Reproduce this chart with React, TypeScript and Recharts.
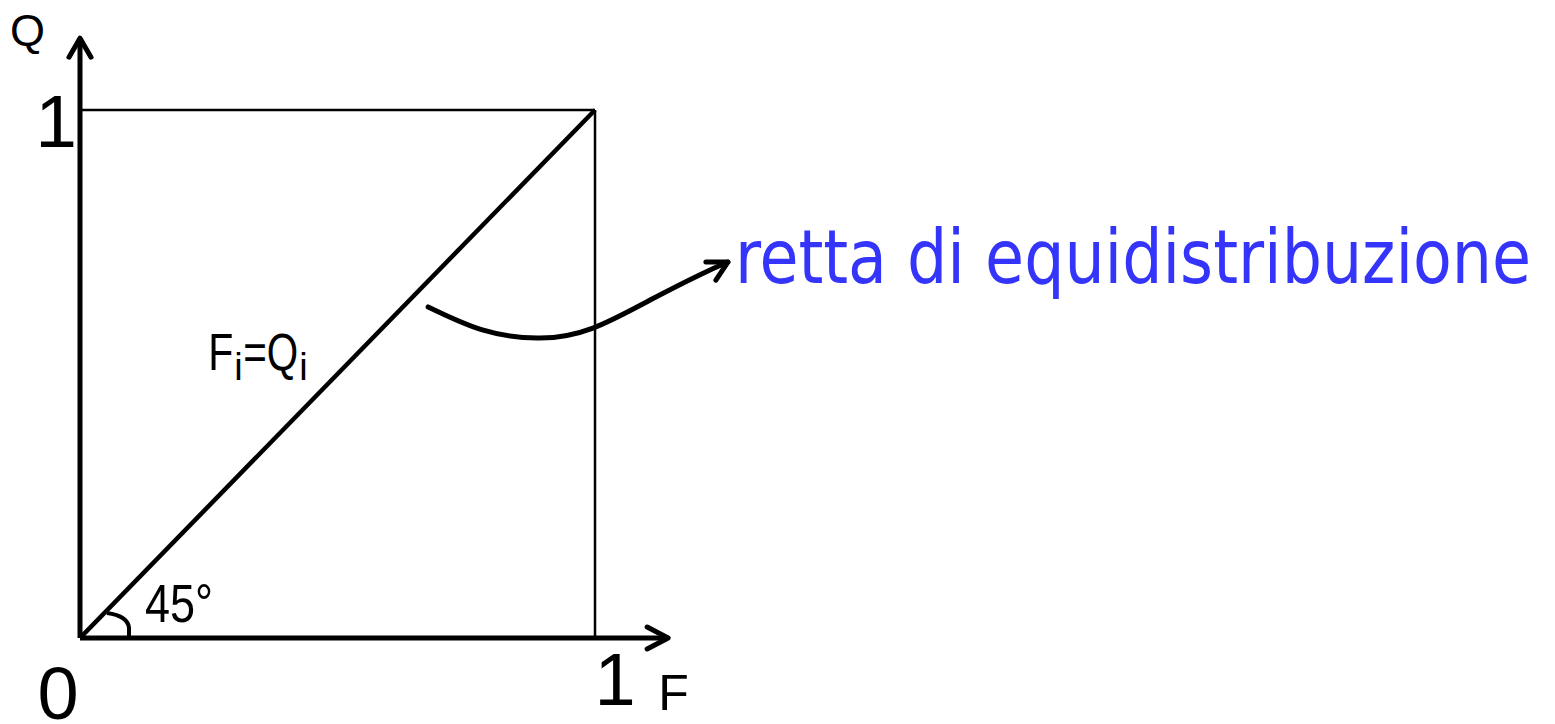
import { ComposedChart, Line, XAxis, YAxis, ReferenceLine, ReferenceDot } from 'recharts';

// equal distribution line F = Q
const equalLine = [
  { f: 0, q: 0 },
  { f: 1, q: 1 },
];

// hand drawn pointer from the diagonal to the caption
const pointerCurve = [
  { f: 0.676, q: 0.627 },
  { f: 0.783, q: 0.583 },
  { f: 0.893, q: 0.568 },
  { f: 0.996, q: 0.587 },
  { f: 1.107, q: 0.64 },
  { f: 1.204, q: 0.688 },
  { f: 1.258, q: 0.712 },
];

const xTicks = [0, 1];
const yTicks = [1];
const axisEnd = [1.142, 1.136]; // arrow tips of F and Q axes

const caption = 'retta di equidistribuzione';
const BLACK = '#000';
const BLUE = '#3434fb';
const ARIAL = '"Liberation Sans", Arial, sans-serif';

const XTick = (props: any) => {
  const { x, y, payload } = props;
  if (payload.value === 0) {
    return (
      <text x={x - 22} y={y + 81} textAnchor="middle" fontSize={74} fontFamily={ARIAL} fill={BLACK}>
        0
      </text>
    );
  }
  return (
    <text x={x + 20} y={y + 67} textAnchor="middle" fontSize={74} fontFamily={ARIAL} fill={BLACK}>
      1
    </text>
  );
};

const YTick = (props: any) => {
  const { x, y, payload } = props;
  return (
    <text x={x - 3} y={y + 37} textAnchor="end" fontSize={75} fontFamily={ARIAL} fill={BLACK}>
      {payload.value}
    </text>
  );
};

const FAxis = (props: any) => {
  const { x1, y1, x2, y2 } = props;
  return (
    <g>
      <line x1={x1} y1={y1} x2={x2} y2={y2} stroke={BLACK} strokeWidth={5} />
      <polyline
        points={`${x2 - 21},${y2 - 11} ${x2},${y2} ${x2 - 21},${y2 + 11}`}
        fill="none"
        stroke={BLACK}
        strokeWidth={5}
        strokeLinecap="round"
        strokeLinejoin="round"
      />
      <text x={x2 - 10} y={y2 + 72} fontSize={50} fontFamily={ARIAL} fill={BLACK}>
        F
      </text>
    </g>
  );
};

const QAxis = (props: any) => {
  const { x1, y1, x2, y2 } = props;
  const top = Math.min(y1, y2);
  return (
    <g>
      <line x1={x1} y1={y1} x2={x2} y2={y2} stroke={BLACK} strokeWidth={5} />
      <polyline
        points={`${x1 - 11},${top + 19} ${x1},${top} ${x1 + 11},${top + 19}`}
        fill="none"
        stroke={BLACK}
        strokeWidth={5}
        strokeLinecap="round"
        strokeLinejoin="round"
      />
      <text x={x1 - 70} y={top + 8} fontSize={45} fontFamily={ARIAL} fill={BLACK}>
        Q
      </text>
    </g>
  );
};

const AngleMark = (props: any) => {
  const { cx, cy } = props;
  return (
    <g>
      <path
        d={`M ${cx + 27} ${cy - 25} Q ${cx + 48} ${cy - 22} ${cx + 49} ${cy - 10} L ${cx + 49} ${cy}`}
        fill="none"
        stroke={BLACK}
        strokeWidth={4}
      />
      <text x={cx + 65} y={cy - 16} fontSize={54} fontFamily={ARIAL} fill={BLACK} textLength={68} lengthAdjust="spacingAndGlyphs">
        45°
      </text>
    </g>
  );
};

const DiagonalLabel = (props: any) => {
  const { cx, cy } = props;
  const common = { fontFamily: ARIAL, fill: BLACK };
  return (
    <g>
      <text x={cx} y={cy} fontSize={52} {...common} textLength={25} lengthAdjust="spacingAndGlyphs">F</text>
      <text x={cx + 26} y={cy + 10} fontSize={38} {...common}>i</text>
      <text x={cx + 35} y={cy} fontSize={52} {...common} textLength={55} lengthAdjust="spacingAndGlyphs">=Q</text>
      <text x={cx + 91} y={cy + 10} fontSize={38} {...common}>i</text>
    </g>
  );
};

const PointerTip = (props: any) => {
  const { cx, cy, index } = props;
  if (index !== pointerCurve.length - 1) return <g key={`p${index}`} />;
  return (
    <g key={`p${index}`}>
      <polyline
        points={`${cx - 22},${cy} ${cx},${cy} ${cx - 12},${cy + 18}`}
        fill="none"
        stroke={BLACK}
        strokeWidth={5}
        strokeLinecap="round"
        strokeLinejoin="round"
      />
      <text
        transform={`translate(${cx + 7},${cy + 21}) scale(1,1.06)`}
        x={0}
        y={0}
        fontSize={70.5}
        fontFamily='"DejaVu Sans Condensed", "DejaVu Sans", Verdana, sans-serif'
        fill={BLUE}
      >
        {caption}
      </text>
    </g>
  );
};

export default function App() {
  return (
    <div style={{ position: 'absolute', left: 0, top: 0, width: 1555, height: 724, background: '#fff' }}>
      <ComposedChart width={1555} height={724} margin={{ top: 0, right: 0, left: 0, bottom: 0 }}>
        <XAxis
          type="number"
          dataKey="f"
          domain={[0, 2.864]}
          allowDataOverflow
          ticks={xTicks}
          height={86}
          axisLine={false}
          tickLine={false}
          tickSize={0}
          tickMargin={0}
          tick={<XTick />}
          interval={0}
        />
        <YAxis
          type="number"
          dataKey="q"
          domain={[0, 1.2083]}
          allowDataOverflow
          ticks={yTicks}
          width={80}
          axisLine={false}
          tickLine={false}
          tickSize={0}
          tickMargin={0}
          tick={<YTick />}
          interval={0}
        />
        <ReferenceLine segment={[{ x: 0, y: 1 }, { x: 1, y: 1 }]} stroke={BLACK} strokeWidth={2.5} />
        <ReferenceLine segment={[{ x: 1, y: 0 }, { x: 1, y: 1 }]} stroke={BLACK} strokeWidth={2.5} />
        <Line
          data={equalLine}
          dataKey="q"
          type="linear"
          stroke={BLACK}
          strokeWidth={4.5}
          dot={false}
          activeDot={false}
          isAnimationActive={false}
        />
        <Line
          data={pointerCurve}
          dataKey="q"
          type="natural"
          stroke={BLACK}
          strokeWidth={5}
          strokeLinecap="round"
          dot={<PointerTip />}
          activeDot={false}
          isAnimationActive={false}
        />
        <ReferenceLine segment={[{ x: 0, y: 0 }, { x: axisEnd[0], y: 0 }]} shape={<FAxis />} />
        <ReferenceLine segment={[{ x: 0, y: 0 }, { x: 0, y: axisEnd[1] }]} shape={<QAxis />} />
        <ReferenceDot x={0} y={0} shape={<AngleMark />} />
        <ReferenceDot x={0.249} y={0.508} shape={<DiagonalLabel />} />
      </ComposedChart>
    </div>
  );
}
